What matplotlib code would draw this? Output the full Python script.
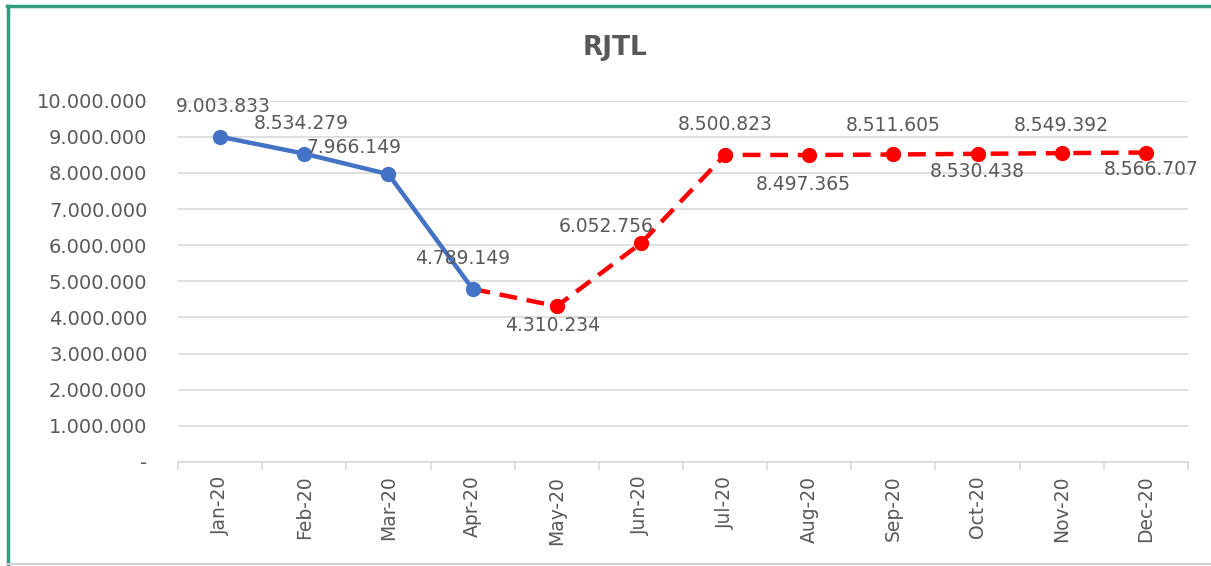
import numpy as np
import matplotlib.pyplot as plt
from matplotlib.ticker import FuncFormatter
from matplotlib.lines import Line2D

# data
months = ['Jan-20', 'Feb-20', 'Mar-20', 'Apr-20', 'May-20', 'Jun-20',
          'Jul-20', 'Aug-20', 'Sep-20', 'Oct-20', 'Nov-20', 'Dec-20']
actual = [9003833, 8534279, 7966149, 4789149]
forecast = [4789149, 4310234, 6052756, 8500823, 8497365, 8511605,
            8530438, 8549392, 8566707]

# label offsets in points (x, y) to mimic the Excel placement
label_offsets = [(2, 22), (-2, 22), (-25, 19), (-7, 22), (-3, -14), (-25, 12),
                 (0, 22), (-4, -21), (0, 21), (0, -13), (0, 20), (4, -12)]

grey = '#595959'

fig = plt.figure(figsize=(12.11, 5.66), dpi=100)
ax = fig.add_axes([0.147, 0.184, 0.834, 0.638])

x = np.arange(len(months))
x_act = x[:len(actual)]
x_fc = x[len(actual) - 1:]

ax.plot(x_fc, forecast, color='#FF0000', lw=3.2, ls=(0, (4, 2.2)),
        marker='o', ms=10, markevery=list(range(1, len(forecast))), zorder=3)
ax.plot(x_act, actual, color='#4472C4', lw=3.2, marker='o', ms=10, zorder=4)

values = actual + forecast[1:]
for i, v in enumerate(values):
    dx, dy = label_offsets[i]
    ax.annotate(f'{v:,}'.replace(',', '.'), (x[i], v), xytext=(dx, dy),
                textcoords='offset points', ha='center', va='center',
                fontsize=13.5, color=grey, zorder=5)

ax.set_xlim(-0.5, len(months) - 0.5)
ax.set_ylim(0, 10000000)
ax.set_yticks(np.arange(0, 10000001, 1000000))
ax.yaxis.set_major_formatter(FuncFormatter(
    lambda v, p: '-' if v == 0 else f'{int(v):,}'.replace(',', '.')))
ax.set_xticks(x)
ax.set_xticklabels(months, rotation=90)
ax.set_xticks(np.arange(-0.5, len(months)), minor=True)
ax.tick_params(axis='x', which='major', length=0, pad=10, labelsize=13.5, labelcolor=grey)
ax.tick_params(axis='x', which='minor', length=6, color='#D9D9D9', width=1.2)
ax.tick_params(axis='y', length=0, pad=22, labelsize=14, labelcolor=grey)

ax.grid(axis='y', color='#D9D9D9', lw=1.2)
ax.set_axisbelow(True)
for s in ['left', 'right', 'top']:
    ax.spines[s].set_visible(False)
ax.spines['bottom'].set_color('#D9D9D9')
ax.spines['bottom'].set_linewidth(1.2)

fig.text(0.508, 0.915, 'RJTL', ha='center', va='center', fontsize=19,
         fontweight='bold', color=grey)

# outer chart border
fig.add_artist(Line2D([0.006, 1.0], [0.989, 0.989], color='#2E9E7E', lw=2.5,
                      transform=fig.transFigure))
fig.add_artist(Line2D([0.007, 0.007], [0.0, 0.989], color='#2E9E7E', lw=2.5,
                      transform=fig.transFigure))
fig.add_artist(Line2D([0.006, 1.0], [0.003, 0.003], color='#D0D0D0', lw=1.5,
                      transform=fig.transFigure))

fig.savefig('out.png', dpi=100)
